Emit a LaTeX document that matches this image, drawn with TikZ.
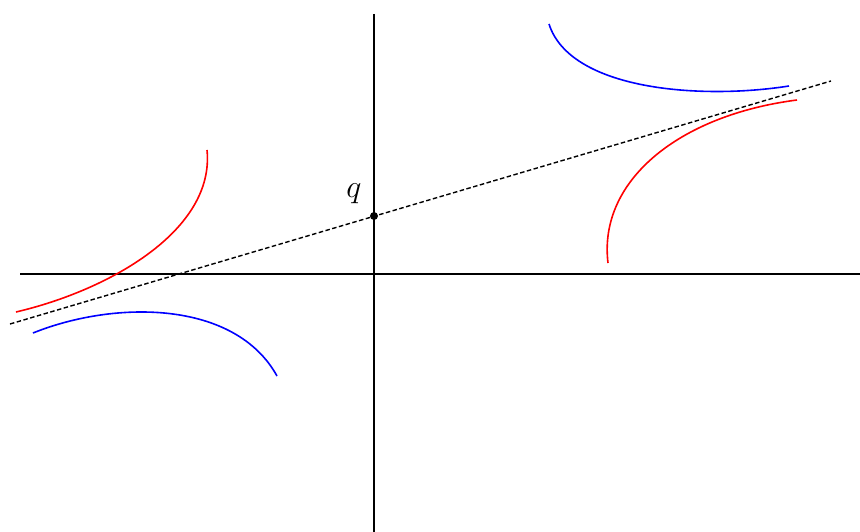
\documentclass[tikz,border=0pt]{standalone}
\usepackage{fix-cm}
\begin{document}
\begin{tikzpicture}[x=1pt,y=-1pt,
  axis/.style={line width=1.7pt,black},
  curve/.style={line width=1.6pt},
  asym/.style={line width=1.4pt,dash pattern=on 4.5pt off 2.5pt}]
\useasboundingbox (0,0) rectangle (860,532);
\coordinate (xl) at (20,274);
\coordinate (xr) at (860,274);
\coordinate (yt) at (374,14);
\coordinate (yb) at (374,532);
\draw[axis] (xl) -- (xr);
\draw[axis] (yt) -- (yb);
\coordinate (dl) at (10,324);
\coordinate (dr) at (831,81);
\draw[asym] (dl) -- (dr);
\node[circle,fill=black,inner sep=0pt,minimum size=8pt] (q) at (374,216) {};
\node[font=\fontsize{32}{32}\selectfont,inner sep=0pt] (ql) at (354,194) {$q$};
\draw[curve,red] (16,312) .. controls (110,290) and (215,230) .. (207,150);
\draw[curve,blue] (33,333) .. controls (115,300) and (235,300) .. (277,376);
\draw[curve,blue] (549,24) .. controls (570,90) and (700,100) .. (789,86);
\draw[curve,red] (608,263) .. controls (598,180) and (680,115) .. (797,100);
\end{tikzpicture}
\end{document}
